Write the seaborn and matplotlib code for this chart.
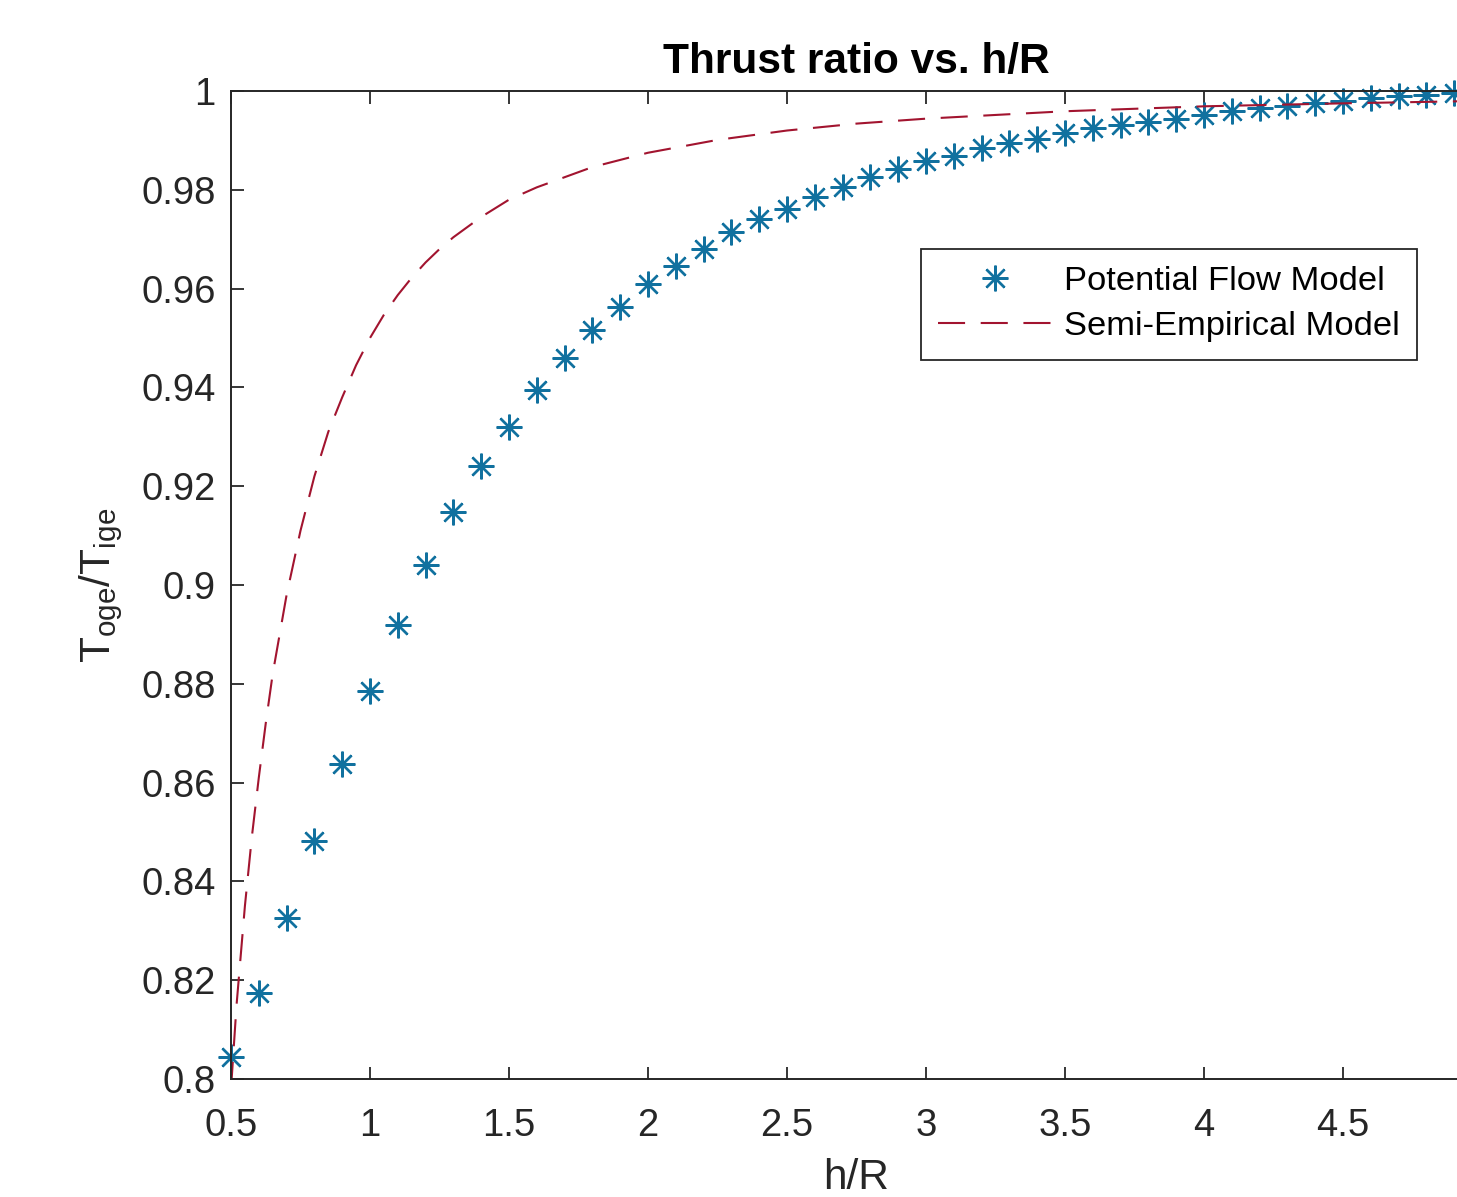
import matplotlib
matplotlib.use("Agg")
import matplotlib.pyplot as plt
import seaborn as sns
import numpy as np
import pandas as pd

# Potential flow model (markers)
pf_x = [0.5, 0.6, 0.7, 0.8, 0.9, 1.0, 1.1, 1.2, 1.3, 1.4, 1.5, 1.6, 1.7, 1.8, 1.9,
        2.0, 2.1, 2.2, 2.3, 2.4, 2.5, 2.6, 2.7, 2.8, 2.9, 3.0, 3.1, 3.2, 3.3, 3.4,
        3.5, 3.6, 3.7, 3.8, 3.9, 4.0, 4.1, 4.2, 4.3, 4.4, 4.5, 4.6, 4.7, 4.8, 4.9, 5.0]
pf_y = [0.8045, 0.8174, 0.8326, 0.8482, 0.8638, 0.8785, 0.8919, 0.9040, 0.9148, 0.9241,
        0.9320, 0.9395, 0.9460, 0.9516, 0.9563, 0.9609, 0.9646, 0.9680, 0.9715, 0.9741,
        0.9761, 0.9785, 0.9806, 0.9826, 0.9842, 0.9858, 0.9868, 0.9885, 0.9895, 0.9903,
        0.9915, 0.9925, 0.9931, 0.9937, 0.9943, 0.9951, 0.9960, 0.9966, 0.9970, 0.9976,
        0.9980, 0.9986, 0.9990, 0.9992, 0.9996, 0.9998]

# Semi-empirical model (dashed curve)
se_x = [0.5, 0.52, 0.55, 0.575, 0.6, 0.625, 0.65, 0.675, 0.7, 0.75, 0.8, 0.85, 0.9,
        0.95, 1.0, 1.05, 1.1, 1.15, 1.2, 1.25, 1.3, 1.4, 1.5, 1.6, 1.8, 2.0, 2.25,
        2.5, 2.75, 3.0, 3.5, 4.0, 4.5, 5.0]
se_y = [0.798, 0.815, 0.835, 0.849, 0.861, 0.872, 0.882, 0.890, 0.898, 0.911, 0.922,
        0.931, 0.938, 0.9445, 0.950, 0.9547, 0.9587, 0.9622, 0.9653, 0.968, 0.9704,
        0.9745, 0.978, 0.9805, 0.9846, 0.9875, 0.9901, 0.9920, 0.9934, 0.9944,
        0.9959, 0.9969, 0.9975, 0.9980]

x_ticks = [0.5, 1, 1.5, 2, 2.5, 3, 3.5, 4, 4.5]
x_ticklabels = ["0.5", "1", "1.5", "2", "2.5", "3", "3.5", "4", "4.5"]
y_ticks = [0.8, 0.82, 0.84, 0.86, 0.88, 0.9, 0.92, 0.94, 0.96, 0.98, 1.0]
y_ticklabels = ["0.8", "0.82", "0.84", "0.86", "0.88", "0.9", "0.92", "0.94", "0.96", "0.98", "1"]

sns.set_theme(style="white")
plt.rcParams['font.family'] = ['Liberation Sans', 'DejaVu Sans']
plt.rcParams['mathtext.fontset'] = 'custom'
plt.rcParams['mathtext.rm'] = 'Liberation Sans'
plt.rcParams['mathtext.it'] = 'Liberation Sans'

W, H = 1457, 1197
fig = plt.figure(figsize=(W / 100, H / 100), dpi=100)
fig.patch.set_facecolor("white")
left, right, top, bottom = 231, 1482, 91, 1079
ax = fig.add_axes([left / W, 1 - bottom / H, (right - left) / W, (bottom - top) / H])

pf = pd.DataFrame({"x": pf_x, "y": pf_y})
se = pd.DataFrame({"x": se_x, "y": se_y})

text_col = "#262626"
blue = "#11719F"
red = "#A2142F"

sns.lineplot(data=pf, x="x", y="y", ax=ax, linestyle="", marker=(8, 2, 0),
             markersize=18.5, markeredgewidth=1.7, color=blue, markeredgecolor=blue,
             label="Potential Flow Model", clip_on=False)
sns.lineplot(data=se, x="x", y="y", ax=ax, color=red, linewidth=1.5,
             linestyle=(0, (13, 7.5)), label="Semi-Empirical Model", sort=False)

ax.set_xlim(0.5, 5)
ax.set_ylim(0.8, 1.0)
ax.set_xticks(x_ticks)
ax.set_xticklabels(x_ticklabels)
ax.set_yticks(y_ticks)
ax.set_yticklabels(y_ticklabels)

for s in ax.spines.values():
    s.set_visible(True)
    s.set_color(text_col)
    s.set_linewidth(1.4)

ax.tick_params(axis="both", which="major", direction="in", length=9, width=1.3,
               color=text_col, labelcolor=text_col, labelsize=27.5,
               top=True, right=True, bottom=True, left=True)
ax.tick_params(axis="x", pad=21)
ax.tick_params(axis="y", pad=11)

ax.set_title("Thrust ratio vs. h/R", fontsize=30.5, fontweight="bold", color="black", pad=13)
ax.set_xlabel("h/R", fontsize=30.5, color=text_col, labelpad=10)
ax.set_ylabel(r"T$_{\rm oge}$/T$_{\rm ige}$", fontsize=30.5, color=text_col, labelpad=12)

leg = ax.legend(loc="upper right", bbox_to_anchor=(0.948, 0.840), fontsize=24.8,
                frameon=True, fancybox=False, edgecolor=text_col, framealpha=1,
                handlelength=3.3, handletextpad=0.35, labelspacing=0.4,
                borderpad=0.5, borderaxespad=0)
leg.get_frame().set_linewidth(1.3)
for t in leg.get_texts():
    t.set_color("black")

fig.savefig("out.png", dpi=100, facecolor="white")
